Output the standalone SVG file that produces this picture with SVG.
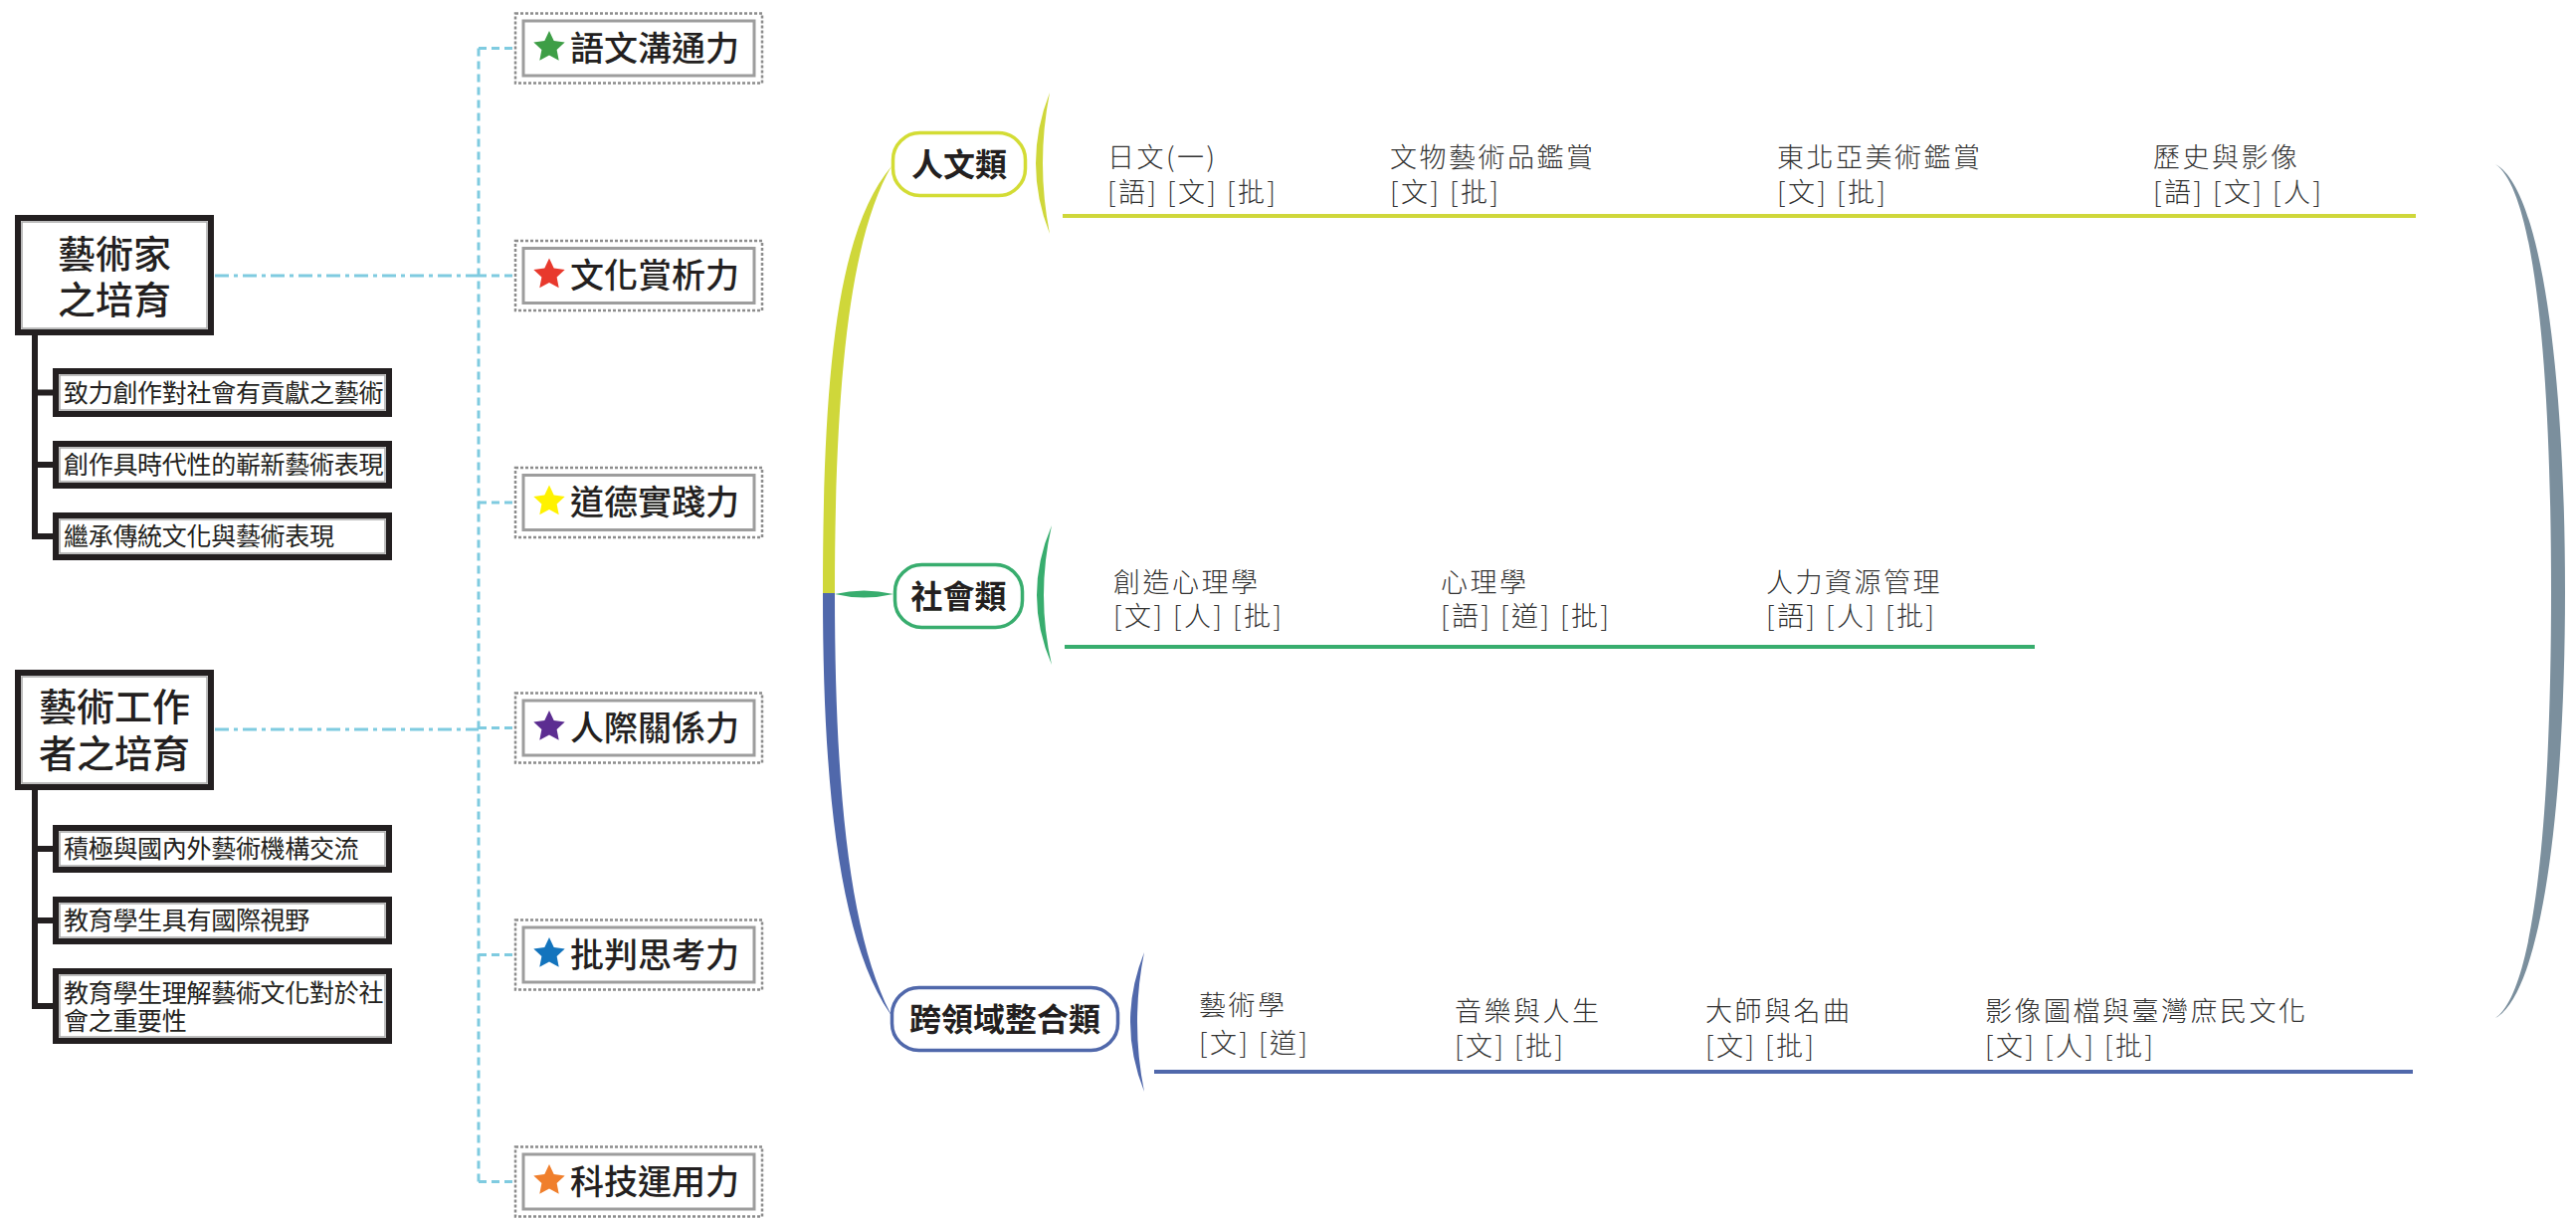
<svg xmlns="http://www.w3.org/2000/svg" width="2589" height="1226" viewBox="0 0 2589 1226">
<defs>
<style>
text{font-family:"Noto Sans CJK TC","Noto Sans CJK SC",sans-serif}
.box{fill:#fff;stroke:#231f20;stroke-width:6}
.boxin{fill:none;stroke:#a8a8a8;stroke-width:1.5}
.main{font-size:38px;fill:#231f20;text-anchor:middle;font-weight:500}
.sub{font-size:25px;fill:#231f20;letter-spacing:-0.3px}
.dot{fill:#fff;stroke:#8c8c8c;stroke-width:2.5;stroke-dasharray:3 2}
.sin{fill:none;stroke:#9d9d9d;stroke-width:3}
.skill{font-size:34px;font-weight:500;fill:#231f20}
.dash{fill:none;stroke:#7fcbe0;stroke-width:3;stroke-dasharray:8 5}
.dashdot{fill:none;stroke:#7fcbe0;stroke-width:3;stroke-dasharray:14 5 4 5}
.tree{stroke:#231f20;stroke-width:6;fill:none}
.pill{fill:#fff;stroke-width:3.5}
.ptxt{font-size:32px;font-weight:700;text-anchor:middle;fill:#231f20}
.item{font-size:27px;font-weight:300;fill:#333;letter-spacing:2.5px}
.yg{fill:#cfd73a}
.gr{fill:#38ad6e}
.bl{fill:#5068ab}
</style>
<polygon id="star" points="0,-16.5 4.7,-6.47 15.69,-5.1 7.61,2.47 9.7,13.35 0,8 -9.7,13.35 -7.61,2.47 -15.69,-5.1 -4.7,-6.47"/>
</defs>

<g id="connectors">
  <line class="dash" x1="481" y1="48.5" x2="481" y2="1187.5"/>
  <line class="dash" x1="481" y1="48.5" x2="518" y2="48.5"/>
  <line class="dash" x1="481" y1="277" x2="518" y2="277"/>
  <line class="dash" x1="481" y1="505" x2="518" y2="505"/>
  <line class="dash" x1="481" y1="731.5" x2="518" y2="731.5"/>
  <line class="dash" x1="481" y1="959.5" x2="518" y2="959.5"/>
  <line class="dash" x1="481" y1="1187.5" x2="518" y2="1187.5"/>
  <line class="dashdot" x1="216" y1="277" x2="481" y2="277"/>
  <line class="dashdot" x1="216" y1="733" x2="481" y2="733"/>
  <path class="tree" d="M35,337 V542 M32,394.5 H56 M32,467 H56 M32,539 H56"/>
  <path class="tree" d="M35,794 V1014 M32,853 H56 M32,925 H56 M32,1011 H56"/>
  <path class="yg" d="M896,167 C842,232 827,370 827,597 L839,597 C839,372 856,236 896,167 Z"/>
  <path class="bl" d="M827,596 C827,800 845,950 897,1022 C855,945 839,800 839,596 Z"/>
  <path class="gr" d="M839,597 Q868,590 898,597 Q868,604 839,597 Z"/>
  <path class="yg" d="M1055,93 Q1027,164 1055,235 Q1041,164 1055,93 Z"/>
  <path class="gr" d="M1057,528 Q1027,598 1057,668 Q1041,598 1057,528 Z"/>
  <path class="bl" d="M1150,957 Q1122,1027 1150,1097 Q1136,1027 1150,957 Z"/>
  <line x1="1068" y1="217" x2="2428" y2="217" stroke="#cfd73a" stroke-width="4"/>
  <line x1="1070" y1="650" x2="2045" y2="650" stroke="#38ad6e" stroke-width="4"/>
  <line x1="1160" y1="1077" x2="2425" y2="1077" stroke="#5068ab" stroke-width="4"/>
  <path fill="#7b8f9d" d="M2508,165 C2555,190 2578,380 2578,594 C2578,808 2555,998 2508,1023 C2549,995 2564,808 2564,594 C2564,380 2549,193 2508,165 Z"/>
</g>

<g id="artist">
  <rect class="box" x="18" y="219" width="194" height="115"/>
  <rect class="boxin" x="22" y="223" width="186" height="107"/>
  <text class="main" x="115" y="269">藝術家</text>
  <text class="main" x="115" y="315">之培育</text>
</g>
<g id="artist-1">
  <rect class="box" x="56" y="373" width="335" height="43"/>
  <rect class="boxin" x="60" y="377" width="327" height="35"/>
  <text class="sub" x="64" y="404">致力創作對社會有貢獻之藝術</text>
</g>
<g id="artist-2">
  <rect class="box" x="56" y="446" width="335" height="42"/>
  <rect class="boxin" x="60" y="450" width="327" height="34"/>
  <text class="sub" x="64" y="476">創作具時代性的嶄新藝術表現</text>
</g>
<g id="artist-3">
  <rect class="box" x="56" y="518" width="335" height="42"/>
  <rect class="boxin" x="60" y="522" width="327" height="34"/>
  <text class="sub" x="64" y="548">繼承傳統文化與藝術表現</text>
</g>

<g id="worker">
  <rect class="box" x="18" y="676" width="194" height="115"/>
  <rect class="boxin" x="22" y="680" width="186" height="107"/>
  <text class="main" x="115" y="724">藝術工作</text>
  <text class="main" x="115" y="771">者之培育</text>
</g>
<g id="worker-1">
  <rect class="box" x="56" y="832" width="335" height="42"/>
  <rect class="boxin" x="60" y="836" width="327" height="34"/>
  <text class="sub" x="64" y="862">積極與國內外藝術機構交流</text>
</g>
<g id="worker-2">
  <rect class="box" x="56" y="904" width="335" height="42"/>
  <rect class="boxin" x="60" y="908" width="327" height="34"/>
  <text class="sub" x="64" y="934">教育學生具有國際視野</text>
</g>
<g id="worker-3">
  <rect class="box" x="56" y="976" width="335" height="70"/>
  <rect class="boxin" x="60" y="980" width="327" height="62"/>
  <text class="sub" x="64" y="1007">教育學生理解藝術文化對於社</text>
  <text class="sub" x="64" y="1035">會之重要性</text>
</g>

<g id="skill-lang">
  <rect class="dot" x="518" y="13.5" width="248" height="70"/>
  <rect class="sin" x="526" y="21" width="232" height="55"/>
  <use href="#star" x="552" y="47.5" fill="#3e9e46"/>
  <text class="skill" x="573" y="60.5">語文溝通力</text>
</g>
<g id="skill-culture">
  <rect class="dot" x="518" y="242" width="248" height="70"/>
  <rect class="sin" x="526" y="249.5" width="232" height="55"/>
  <use href="#star" x="552" y="276" fill="#e8392d"/>
  <text class="skill" x="573" y="289">文化賞析力</text>
</g>
<g id="skill-moral">
  <rect class="dot" x="518" y="470" width="248" height="70"/>
  <rect class="sin" x="526" y="477.5" width="232" height="55"/>
  <use href="#star" x="552" y="504" fill="#fff200"/>
  <text class="skill" x="573" y="517">道德實踐力</text>
</g>
<g id="skill-social">
  <rect class="dot" x="518" y="696.5" width="248" height="70"/>
  <rect class="sin" x="526" y="704" width="232" height="55"/>
  <use href="#star" x="552" y="730.5" fill="#5c2d91"/>
  <text class="skill" x="573" y="743.5">人際關係力</text>
</g>
<g id="skill-critical">
  <rect class="dot" x="518" y="924.5" width="248" height="70"/>
  <rect class="sin" x="526" y="932" width="232" height="55"/>
  <use href="#star" x="552" y="958.5" fill="#1374bd"/>
  <text class="skill" x="573" y="971.5">批判思考力</text>
</g>
<g id="skill-tech">
  <rect class="dot" x="518" y="1152.5" width="248" height="70"/>
  <rect class="sin" x="526" y="1160" width="232" height="55"/>
  <use href="#star" x="552" y="1186.5" fill="#f07f2c"/>
  <text class="skill" x="573" y="1199.5">科技運用力</text>
</g>

<g id="cat-humanities">
  <rect class="pill" x="897.5" y="133.5" width="133" height="63" rx="27" stroke="#d3dc34"/>
  <text class="ptxt" x="964" y="177">人文類</text>
</g>
<g id="cat-social">
  <rect class="pill" x="899.5" y="567.5" width="128" height="63" rx="27" stroke="#38ad6e"/>
  <text class="ptxt" x="963.5" y="611">社會類</text>
</g>
<g id="cat-cross">
  <rect class="pill" x="896.5" y="992.5" width="227" height="63" rx="27" stroke="#5068ab"/>
  <text class="ptxt" x="1010" y="1036">跨領域整合類</text>
</g>

<g id="c-japanese"><text class="item" x="1113" y="168">日文(一)</text><text class="item" x="1113" y="203">[語] [文] [批]</text></g>
<g id="c-artifacts"><text class="item" x="1397" y="168">文物藝術品鑑賞</text><text class="item" x="1397" y="203">[文] [批]</text></g>
<g id="c-neasia"><text class="item" x="1786" y="168">東北亞美術鑑賞</text><text class="item" x="1786" y="203">[文] [批]</text></g>
<g id="c-history"><text class="item" x="2164" y="168">歷史與影像</text><text class="item" x="2164" y="203">[語] [文] [人]</text></g>

<g id="c-creative"><text class="item" x="1119" y="595">創造心理學</text><text class="item" x="1119" y="629">[文] [人] [批]</text></g>
<g id="c-psych"><text class="item" x="1448" y="595">心理學</text><text class="item" x="1448" y="629">[語] [道] [批]</text></g>
<g id="c-hr"><text class="item" x="1775" y="595">人力資源管理</text><text class="item" x="1775" y="629">[語] [人] [批]</text></g>

<g id="c-art"><text class="item" x="1205" y="1020">藝術學</text><text class="item" x="1205" y="1058">[文] [道]</text></g>
<g id="c-music"><text class="item" x="1462" y="1026">音樂與人生</text><text class="item" x="1462" y="1061">[文] [批]</text></g>
<g id="c-masters"><text class="item" x="1714" y="1026">大師與名曲</text><text class="item" x="1714" y="1061">[文] [批]</text></g>
<g id="c-image"><text class="item" x="1995" y="1026">影像圖檔與臺灣庶民文化</text><text class="item" x="1995" y="1061">[文] [人] [批]</text></g>
</svg>
